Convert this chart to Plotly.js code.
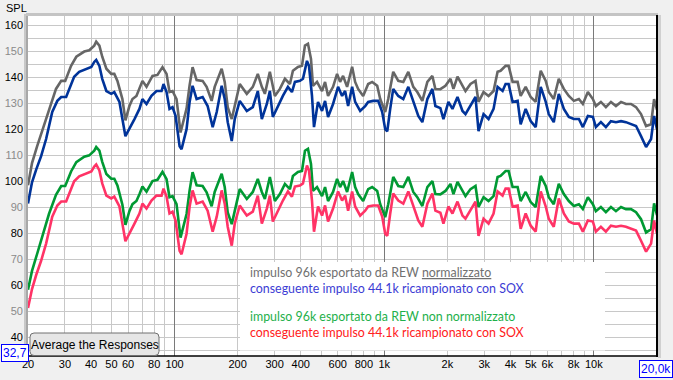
<!DOCTYPE html>
<html><head><meta charset="utf-8">
<script src="https://cdn.plot.ly/plotly-3.0.1.min.js"></script>
<style>html,body{margin:0;padding:0;background:#f0f0f0;overflow:hidden}#chart{width:673px;height:380px}</style>
</head><body><div id="chart"></div>
<script>
// ---- data ----
const freq96 = [20.0,20.9,22.1,23.4,25.2,27.2,28.8,30.1,32.1,34.0,37.1,39.2,41.4,42.3,43.8,45.2,47.3,49.9,51.6,53.4,56.4,58.3,60.9,63.0,65.8,68.0,70.3,73.5,75.9,78.5,82.9,87.6,91.6,94.6,97.8,102.2,106.8,114.1,118.0,121.9,127.4,136.1,142.2,150.3,155.4,167.8,173.5,179.3,187.4,193.7,204.6,221.1,236.2,249.5,260.8,269.6,284.8,300.9,318.0,336.0,355.0,366.9,387.7,405.3,418.8,432.9,447.4,457.4,478.1,505.1,522.2,539.7,570.2,595.9,615.9,636.6,665.3,703.0,726.6,751.0,793.5,838.5,876.2,925.8,957.0,1011,1045,1104,1167,1233,1303,1376,1438,1520,1606,1697,1754,1853,1959,2070,2139,2236,2362,2441,2579,2725,2817,2977,3145,3323,3473,3589,3792,3920,4096,4328,4474,4727,4995,5278,5578,5894,6092,6437,6802,7188,7595,8026,8481,8859,9361,9890,10220,10800,11410,12060,12740,13470,14220,15030,15890,16780,17740,18740,19370,20000];
const splNorm96 = [98.5,107,113.5,119.5,127.9,135.6,138.7,138.7,144.5,148,150,150.5,152.3,153.8,152.3,148,143.4,141.4,141.4,138.7,131.7,123.5,129,131.7,132.9,135.6,138.7,136.4,138.7,140.6,141,144,141.4,134.4,134.8,131.7,118.8,128,137,144,139,138.7,136.4,131,136.4,143.4,138.3,128.6,124,129,137.5,133.7,136.4,141.4,136.4,133.7,142.2,132.9,135.6,139.5,137.5,142.6,144.1,144.5,152.3,153,147.2,136.8,138.3,134.8,138.3,132.9,136.4,141.4,138.3,140.6,136.4,144.1,138.3,135.6,132.9,137.5,138.3,136.8,131.7,126.7,131.7,142.2,138.7,138.3,142.2,136.4,134.4,131,138.3,140.6,135.6,135.5,136.8,139.5,135.6,140.3,136.8,134.8,137.5,138.7,130.6,134.4,132.9,134.8,142.2,142.6,144.5,144.5,138.3,138.3,132.9,136.4,132.5,130.6,142.6,138.7,134.4,131.7,139.5,135.6,132.9,131,131.7,129.8,134.4,131.7,129,130.6,128.6,130.6,129,130.6,129.8,129.8,128.6,125.9,121.3,122,131.7,127.5];
const splRaw96 = [58.2,65.5,72,78.5,87.5,94.8,98.2,98.2,103.8,107.4,109.5,110,111.8,113.2,111.8,107.5,102.8,101,101,98.4,91,83.2,88.5,91.2,92.4,95,98,96,98.2,100.1,100.6,103.7,100.8,93.9,94.3,91.2,78.3,87.4,96.5,103.5,98.5,98.2,95.8,90.4,95.9,102.9,97.8,88,83.5,88.5,97,93.2,95.9,100.9,95.9,93.2,101.7,92.4,95.1,99,97,102.1,103.6,104,111.8,112.5,106.7,96.3,97.8,94.3,97.8,92.4,95.9,100.9,97.8,100.1,95.9,103.6,97.8,95.1,92.4,97,97.8,96.3,91.2,86.2,91.2,101.7,98.2,97.8,101.7,95.9,93.9,90.5,97.8,100.1,95.1,95,96.3,99,95.1,99.8,96.3,94.3,97,98.2,90.1,93.9,92.4,94.3,101.7,102.1,104,104,97.8,97.8,92.4,95.9,92,90.1,102.1,98.2,93.9,91.2,99,95.1,92.4,90.5,91.2,89.3,93.9,91.2,88.5,90.1,88.1,90.1,88.5,90.1,89.3,89.3,88.1,85.4,80.3,81.5,91.5,87];
const freq44 = [20.0,20.9,21.9,23.1,24.4,25.2,26.1,27.6,28.8,30.4,31.4,33.2,35.1,37.9,40.1,41.4,42.3,43.8,45.2,47.3,49.9,51.6,54.6,56.4,58.3,64.4,68.0,70.3,73.5,77.6,82.0,86.7,88.6,91.6,94.6,97.8,101.1,105.7,108.0,114.1,118.0,121.9,127.4,136.1,143.8,152.0,158.9,167.8,173.5,179.3,187.4,193.7,204.6,221.1,236.2,249.5,260.8,275.5,284.8,294.3,311.0,328.6,347.3,362.9,375.1,396.4,409.7,428.1,437.7,452.4,462.5,483.3,505.1,522.2,539.7,570.2,602.5,629.6,650.8,672.7,703.0,726.6,767.8,811.3,838.5,885.9,936.1,978.2,1011,1034,1068,1104,1167,1233,1303,1376,1454,1520,1606,1697,1754,1853,1916,2024,2116,2236,2362,2441,2579,2725,2817,2977,3145,3323,3473,3669,3792,3920,4096,4328,4474,4727,4995,5278,5578,5894,6092,6437,6802,7188,7595,8026,8481,8859,9361,9890,10220,10800,11410,12060,12740,13470,14220,15030,15890,16780,17740,18740,19370,20000];
const splNorm44 = [91.5,99.6,104.6,109.7,116.3,121,126.7,131,132.5,132.5,135.6,140.3,142.2,143.4,144.1,146,146.8,144.5,139.5,134.8,133.7,134.4,130.6,124,117.4,124,127.9,131.7,129.8,132.9,134.8,134.8,137.5,134.4,127.9,128.6,125.2,113.5,112.4,120.1,130.6,136.8,131.7,132.5,129,120.9,126.7,136.8,131.7,122.8,115.5,124,131,127.1,128.6,134.8,124,129.8,134.8,124.8,129,132.9,136.4,134.4,138.3,138.7,139.5,146.4,144.5,132.9,120.9,130.6,127.1,131,124.8,129.8,136.4,132.9,134.8,129,136.4,130.6,127.1,129,130.6,131,131,126.7,120.1,119.3,127.9,135.6,132.9,131.7,136.4,130.6,125.2,122.8,131.7,135.6,129,128.2,124,130.6,127.9,132.5,127.1,125.9,129,132.5,119.3,125.9,124,127.9,136.4,134.8,137.5,137.5,130.6,131,122,127.9,123.2,120.9,136.4,130.6,125.9,122.8,133.7,127.9,124.8,124,124,120.9,125.2,124.8,120.9,122.8,120.9,123.2,122.8,123.2,122.8,122,121.3,117.4,113.2,116.3,125.2,120.1];
const splRaw44 = [51.2,58.5,64,69.4,76,80.7,86.4,90.7,92.2,92.2,95.3,100,101.9,103.1,103.8,105.7,106.5,104.2,99.2,94.5,93.4,94.1,90.3,83.7,76.9,83.7,87.6,91.4,89.5,92.6,94.5,94.5,97.2,94.1,87.6,88.3,84.9,73.2,71.9,79.8,90.3,96.5,91.4,92.2,88.7,80.6,86.4,96.5,91.4,82.5,75.2,83.7,90.7,86.8,88.3,94.5,83.7,89.5,94.5,84.5,88.7,92.6,96.1,94.1,98,98.4,99.2,106.1,104.2,92.6,80.6,90.3,86.8,90.7,84.5,89.5,96.1,92.6,94.5,88.7,96.1,90.3,86.8,88.7,90.3,90.7,90.7,86.4,79.8,79,87.6,95.3,92.6,91.4,96.1,90.3,84.9,82.5,91.4,95.3,88.7,87.9,83.7,90.3,87.6,92.2,86.8,85.6,88.7,92.2,79,85.6,83.7,87.6,96.1,94.5,97.2,97.2,90.3,90.7,81.7,87.6,82.9,80.6,96.1,90.3,85.6,82.5,93.4,87.6,84.5,83.7,83.7,80.6,84.9,84.5,80.6,82.5,80.6,82.9,82.5,82.9,82.5,81.7,81,77.1,72.9,76,84.9,79.8];

const xTickVals = [20,30,40,50,60,80,100,200,300,400,600,800,1000,2000,3000,4000,5000,6000,8000,10000];
const xTickText = ['20','30','40','50','60','80','100','200','300','400','600','800','1k','2k','3k','4k','5k','6k','8k','10k'];
const yTickVals = [40,50,60,70,80,90,100,110,120,130,140,150,160];
const seriesNames = ['impulso 96k esportato da REW normalizzato','conseguente impulso 44.1k ricampionato con SOX','impulso 96k esportato da REW non normalizzato','conseguente impulso 44.1k ricampionato con SOX'];

// ---- layout helpers (pixel -> paper) ----
const L=28, T=16, W=629, H=340;
const px = x => (x-L)/W;
const py = y => (T+H-y)/H;

const gridFreqs = [];
[10,100,1000,10000].forEach(d=>{for(let k=1;k<=9;k++){const f=k*d; if(f>=20&&f<=20000) gridFreqs.push(f);}});

const yTickText = yTickVals.map(v => (v%20===0) ? '<span style="color:#000000">'+v+'</span>' : '<span style="color:#8a8a8a">'+v+'</span>');

const font = 'Liberation Sans, Arial, sans-serif';
const legFont = 'Lato, Liberation Sans, sans-serif';
const legSize = 12.4;
const lw = 2.6;
const traces = [
  {x:freq96, y:splNorm96, mode:'lines', line:{color:'#666666', width:lw}, name:seriesNames[0]},
  {x:freq44, y:splNorm44, mode:'lines', line:{color:'#003399', width:lw}, name:seriesNames[1]},
  {x:freq96, y:splRaw96, mode:'lines', line:{color:'#009933', width:lw}, name:seriesNames[2]},
  {x:freq44, y:splRaw44, mode:'lines', line:{color:'#ff3366', width:lw}, name:seriesNames[3]},
  {x:[], y:[], xaxis:'x2', yaxis:'y', mode:'lines', showlegend:false, hoverinfo:'skip'}
];

const xr = [Math.log10(20), Math.log10(20000)];
const bx0=px(30), bx1=px(159), by0=py(355.5), by1=py(333), rx=4/W, ry=4/H;
const btnPath = `M ${bx0+rx},${by0} L ${bx1-rx},${by0} Q ${bx1},${by0} ${bx1},${by0+ry} L ${bx1},${by1-ry} Q ${bx1},${by1} ${bx1-rx},${by1} L ${bx0+rx},${by1} Q ${bx0},${by1} ${bx0},${by1-ry} L ${bx0},${by0+ry} Q ${bx0},${by0} ${bx0+rx},${by0} Z`;

const layout = {
  width:673, height:380,
  margin:{l:L, r:673-L-W, t:T, b:380-T-H, pad:0},
  paper_bgcolor:'#f0f0f0', plot_bgcolor:'#ffffff',
  showlegend:false,
  font:{family:font, size:11, color:'#000'},
  xaxis:{type:'log', range:xr, tickmode:'array', tickvals:xTickVals, ticktext:xTickText,
    showgrid:false, zeroline:false, ticks:'', showline:false,
    tickfont:{family:font, size:11, color:'#000'},
    minor:{tickmode:'array', tickvals:gridFreqs, showgrid:true, gridcolor:'#c8c8c8', gridwidth:1, ticks:''}},
  xaxis2:{type:'log', range:xr, overlaying:'x', anchor:'y', side:'bottom', tickmode:'array', tickvals:[100,1000,10000],
    showgrid:true, gridcolor:'#7a7a7a', gridwidth:1, showticklabels:false, ticks:'', zeroline:false, showline:false},
  yaxis:{range:[32.7,163.7], tickmode:'array', tickvals:yTickVals, ticktext:yTickText,
    showgrid:true, gridcolor:'#c8c8c8', gridwidth:1, zeroline:false, ticks:'', showline:false,
    ticklabelstandoff:4,
    tickfont:{family:font, size:11, color:'#000'},
    minor:{tick0:0, dtick:5, showgrid:true, gridcolor:'#c8c8c8', gridwidth:1}},
  shapes:[
    {type:'rect', xref:'paper', yref:'paper', x0:px(240), x1:px(605), y0:py(350.5), y1:py(262), fillcolor:'#ffffff', line:{width:0}, layer:'above'},
    {type:'rect', xref:'paper', yref:'paper', x0:px(24), x1:px(26), y0:0, y1:py(14), fillcolor:'#c8c8c8', line:{width:0}},
    {type:'rect', xref:'paper', yref:'paper', x0:px(26), x1:px(28), y0:0, y1:py(14), fillcolor:'#a8a8a8', line:{width:0}},
    {type:'rect', xref:'paper', yref:'paper', x0:px(26), x1:px(658), y0:py(16), y1:py(13), fillcolor:'#c4c4c4', line:{width:0}},
    {type:'line', xref:'paper', yref:'paper', x0:1, x1:1, y0:py(357), y1:py(15), line:{color:'#000000', width:2}},
    {type:'line', xref:'paper', yref:'paper', x0:0, x1:1, y0:0, y1:0, line:{color:'#000000', width:1.5}},
    {type:'rect', xref:'paper', yref:'paper', x0:px(658), x1:px(661), y0:py(358), y1:py(15), fillcolor:'#d0d0d0', line:{width:0}},
    {type:'path', xref:'paper', yref:'paper', path:btnPath, fillcolor:'#e6e6e6', line:{color:'#707070', width:1}, layer:'above'}
  ],
  annotations:[
    {xref:'paper', yref:'paper', x:px(4), y:py(8), xanchor:'left', yanchor:'middle', text:'SPL', showarrow:false, font:{family:font, size:11, color:'#000'}},
    {xref:'paper', yref:'paper', x:px(94.5), y:py(344.5), xanchor:'center', yanchor:'middle', text:'Average the Responses', showarrow:false, font:{family:font, size:12, color:'#000'}},
    {xref:'paper', yref:'paper', x:px(14.5), y:py(353), xanchor:'center', yanchor:'middle', text:'32,7', showarrow:false, bgcolor:'#ffffff', bordercolor:'#0000ff', borderwidth:1, borderpad:1, font:{family:font, size:12, color:'#0000ff'}},
    {xref:'paper', yref:'paper', x:px(656), y:py(369), xanchor:'center', yanchor:'middle', text:'20,0k', showarrow:false, bgcolor:'#ffffff', bordercolor:'#0000ff', borderwidth:1, borderpad:1, font:{family:font, size:12, color:'#0000ff'}},
    {xref:'paper', yref:'paper', x:px(248), y:py(272), xanchor:'left', yanchor:'middle', showarrow:false, text:'impulso 96k esportato da REW <span style="text-decoration:underline">normalizzato</span>', font:{family:legFont, size:legSize, color:'#707070'}},
    {xref:'paper', yref:'paper', x:px(248), y:py(288), xanchor:'left', yanchor:'middle', showarrow:false, text:seriesNames[1], font:{family:legFont, size:legSize, color:'#3c3cd4'}},
    {xref:'paper', yref:'paper', x:px(248), y:py(316), xanchor:'left', yanchor:'middle', showarrow:false, text:seriesNames[2], font:{family:legFont, size:legSize, color:'#1eb04a'}},
    {xref:'paper', yref:'paper', x:px(248), y:py(332), xanchor:'left', yanchor:'middle', showarrow:false, text:seriesNames[3], font:{family:legFont, size:legSize, color:'#ff2020'}}
  ]
};
Plotly.newPlot('chart', traces, layout, {staticPlot:true, displayModeBar:false});
</script></body></html>
